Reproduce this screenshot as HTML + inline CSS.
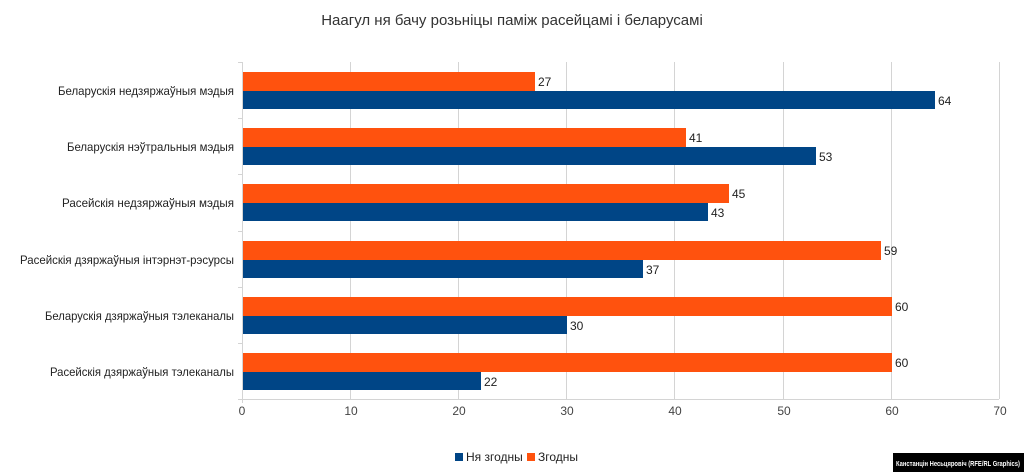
<!DOCTYPE html><html><head><meta charset="utf-8"><style>body{margin:0;background:#fff}svg{display:block;font-family:"Liberation Sans",sans-serif}</style></head><body>
<svg width="1024" height="472" xmlns="http://www.w3.org/2000/svg">
<rect width="1024" height="472" fill="#fff"/>
<text x="512" y="25" font-size="15" text-anchor="middle" fill="#333">Наагул ня бачу розьніцы паміж расейцамі і беларусамі</text>
<g stroke="#d4d4d4" stroke-width="1">
<line x1="350.5" y1="62" x2="350.5" y2="399"/><line x1="458.5" y1="62" x2="458.5" y2="399"/><line x1="566.5" y1="62" x2="566.5" y2="399"/><line x1="674.5" y1="62" x2="674.5" y2="399"/><line x1="783.5" y1="62" x2="783.5" y2="399"/><line x1="891.5" y1="62" x2="891.5" y2="399"/><line x1="999.5" y1="62" x2="999.5" y2="399"/>
<line x1="242.5" y1="62" x2="242.5" y2="403"/><line x1="238" y1="399.5" x2="999" y2="399.5"/>
<line x1="238" y1="62.5" x2="242" y2="62.5"/><line x1="238" y1="118.5" x2="242" y2="118.5"/><line x1="238" y1="174.5" x2="242" y2="174.5"/><line x1="238" y1="231.5" x2="242" y2="231.5"/><line x1="238" y1="287.5" x2="242" y2="287.5"/><line x1="238" y1="343.5" x2="242" y2="343.5"/>
</g>
<g font-size="11.6" fill="#222" text-anchor="end">
<text x="234" y="95" textLength="176" lengthAdjust="spacingAndGlyphs">Беларускія недзяржаўныя мэдыя</text>
<text x="234" y="151" textLength="167" lengthAdjust="spacingAndGlyphs">Беларускія нэўтральныя мэдыя</text>
<text x="234" y="207" textLength="172" lengthAdjust="spacingAndGlyphs">Расейскія недзяржаўныя мэдыя</text>
<text x="234" y="264" textLength="214" lengthAdjust="spacingAndGlyphs">Расейскія дзяржаўныя інтэрнэт-рэсурсы</text>
<text x="234" y="320" textLength="189" lengthAdjust="spacingAndGlyphs">Беларускія дзяржаўныя тэлеканалы</text>
<text x="234" y="376" textLength="184" lengthAdjust="spacingAndGlyphs">Расейскія дзяржаўныя тэлеканалы</text>
</g>
<g>
<rect x="243" y="72" width="292" height="19" fill="#ff520e"/><rect x="243" y="91" width="692" height="18" fill="#004586"/>
<rect x="243" y="128" width="443" height="19" fill="#ff520e"/><rect x="243" y="147" width="573" height="18" fill="#004586"/>
<rect x="243" y="184" width="486" height="19" fill="#ff520e"/><rect x="243" y="203" width="465" height="18" fill="#004586"/>
<rect x="243" y="241" width="638" height="19" fill="#ff520e"/><rect x="243" y="260" width="400" height="18" fill="#004586"/>
<rect x="243" y="297" width="649" height="19" fill="#ff520e"/><rect x="243" y="316" width="324" height="18" fill="#004586"/>
<rect x="243" y="353" width="649" height="19" fill="#ff520e"/><rect x="243" y="372" width="238" height="18" fill="#004586"/>
</g>
<g font-size="12" fill="#222">
<text x="538" y="86">27</text><text x="938" y="105">64</text>
<text x="689" y="142">41</text><text x="819" y="161">53</text>
<text x="732" y="198">45</text><text x="711" y="217">43</text>
<text x="884" y="255">59</text><text x="646" y="274">37</text>
<text x="895" y="311">60</text><text x="570" y="330">30</text>
<text x="895" y="367">60</text><text x="484" y="386">22</text>
</g>
<g font-size="12" fill="#444" text-anchor="middle">
<text x="242" y="415">0</text><text x="351" y="415">10</text><text x="459" y="415">20</text><text x="567" y="415">30</text><text x="675" y="415">40</text><text x="784" y="415">50</text><text x="892" y="415">60</text><text x="1000" y="415">70</text>
</g>
<rect x="455" y="453" width="8" height="8" fill="#004586"/>
<text x="466" y="461" font-size="12" fill="#222">Ня згодны</text>
<rect x="527" y="453" width="8" height="8" fill="#ff520e"/>
<text x="538" y="461" font-size="12" fill="#222">Згодны</text>
<rect x="893" y="453" width="131" height="19" fill="#000"/>
<text x="896" y="466" font-size="7" font-weight="bold" fill="#fff" textLength="124" lengthAdjust="spacingAndGlyphs">Канстанцін Несьцяровіч (RFE/RL Graphics)</text>
</svg></body></html>
